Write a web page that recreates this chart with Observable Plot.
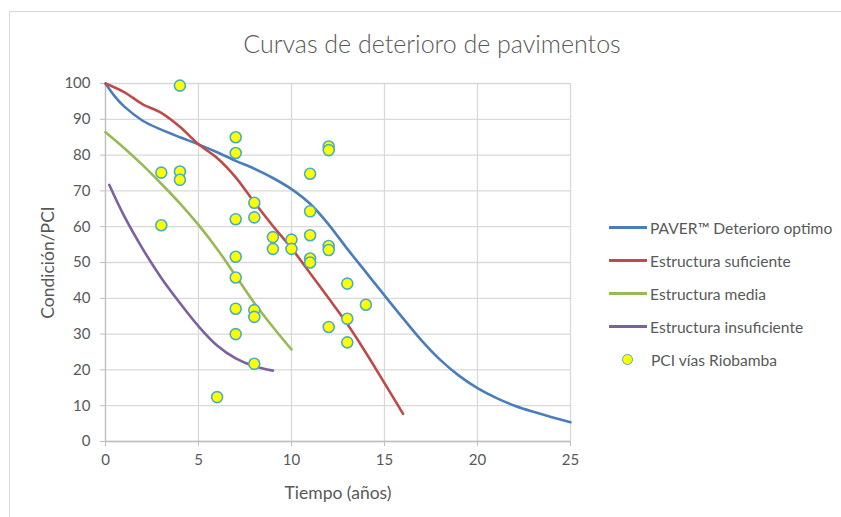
<!DOCTYPE html>
<html>
<head>
<meta charset="utf-8">
<script src="https://cdn.jsdelivr.net/npm/d3@7"></script>
<script src="https://cdn.jsdelivr.net/npm/@observablehq/plot@0.6"></script>
<style>
  html, body { margin: 0; padding: 0; background: #fff; }
  #wrap { position: relative; width: 841px; height: 517px; overflow: hidden; font-family: Lato, "Open Sans", sans-serif; color: #595959; }
  #frame { position: absolute; left: 9px; top: 11px; width: 900px; height: 600px; border-left: 1px solid #d9d9d9; border-top: 1px solid #d9d9d9; }
  #title { position: absolute; left: 0; width: 864px; top: 28px; text-align: center; font-size: 25px; font-weight: 300; color: #595959; }
  #chart { position: absolute; left: 0; top: 0; }
  #legend { position: absolute; left: 609px; top: 211px; font-size: 15.6px; color: #595959; }
  .item { height: 33px; display: flex; align-items: center; position: relative; }
  .item .sw { width: 38px; height: 3px; margin-right: 3px; }
  .item .dot { width: 9px; height: 9px; border-radius: 50%; background: #ffff00; border: 1.5px solid #4bacc6; margin-left: 13px; margin-right: 18px; }
</style>
</head>
<body>
<div id="wrap">
  <div id="frame"></div>
  <div id="chart"></div>
  <div id="title">Curvas de deterioro de pavimentos</div>
  <div id="legend"></div>
</div>
<script>
// Series names
const seriesNames = ["PAVER™ Deterioro optimo", "Estructura suficiente", "Estructura media", "Estructura insuficiente", "PCI vías Riobamba"];
const seriesColors = ["#4a7ebb", "#be4b48", "#98b954", "#7d60a0"];

// PAVER curve
const paverX = [0, 0.5, 1, 2, 3, 4, 5, 6, 7, 8, 9, 10, 11, 12, 13, 14, 15, 16, 17, 18, 19, 20, 21, 22, 23, 24, 25];
const paverY = [100, 96.4, 93.6, 89.6, 87.1, 85, 83, 80.8, 78.4, 76.2, 73.6, 70.5, 66.4, 60.6, 53.8, 47.3, 40.8, 34.4, 28.2, 22.8, 18.4, 14.9, 12.2, 10.0, 8.3, 6.8, 5.4];

// Estructura suficiente
const sufX = [0, 1, 2, 3, 4, 5, 6, 7, 8, 9, 10, 11, 12, 13, 14, 15, 16];
const sufY = [100, 97.6, 94.2, 91.8, 87.9, 83, 79.2, 73.8, 66.8, 60.2, 54, 47, 40, 32.8, 24.8, 16.3, 7.7];

// Estructura media
const medX = [0, 1, 2, 3, 4, 5, 6, 7, 8, 9, 10];
const medY = [86.4, 82, 77.2, 72, 66.5, 60.5, 53.8, 46.3, 38.7, 32, 25.7];

// Estructura insuficiente
const insX = [0.2, 1, 2, 3, 4, 5, 6, 7, 8, 9];
const insY = [71.7, 63, 53.8, 45.7, 38.7, 32.2, 26.8, 23.2, 21, 19.8];

// PCI vías Riobamba (points)
const pciX = [4, 7, 7, 12, 12, 11, 3, 4, 4, 8, 11, 7, 8, 3, 9, 10, 11, 9, 10, 12, 12, 11, 11, 7, 7, 13, 14, 7, 8, 8, 13, 12, 7, 13, 8, 6];
const pciY = [99.4, 85, 80.6, 82.4, 81.4, 74.8, 75.1, 75.4, 73.1, 66.7, 64.3, 62.1, 62.6, 60.4, 57.1, 56.4, 57.6, 53.8, 53.8, 54.6, 53.5, 51.1, 50, 51.6, 45.8, 44.1, 38.2, 37.1, 36.7, 34.8, 34.3, 32, 30, 27.7, 21.7, 12.4];

// Ticks
const xTicks = [0, 5, 10, 15, 20, 25];
const yTicks = [0, 10, 20, 30, 40, 50, 60, 70, 80, 90, 100];

const toRows = (xs, ys) => xs.map((x, i) => ({x, y: ys[i]}));
const curves = [toRows(paverX, paverY), toRows(sufX, sufY), toRows(medX, medY), toRows(insX, insY)];
const points = toRows(pciX, pciY);

const plot = Plot.plot({
  width: 841,
  height: 517,
  marginLeft: 105,
  marginRight: 271,
  marginTop: 83,
  marginBottom: 76,
  style: { fontFamily: "Lato, 'Open Sans', sans-serif", fontSize: "15px", color: "#595959", background: "transparent", overflow: "visible" },
  x: { domain: [0, 25] },
  y: { domain: [0, 100] },
  marks: [
    Plot.gridX(xTicks, { stroke: "#d9d9d9", strokeOpacity: 1, strokeWidth: 1.3 }),
    Plot.gridY(yTicks, { stroke: "#d9d9d9", strokeOpacity: 1, strokeWidth: 1.3 }),
    Plot.ruleX([0], { stroke: "#bfbfbf", strokeWidth: 1.3 }),
    Plot.ruleY([0], { stroke: "#bfbfbf", strokeWidth: 1.3 }),
    Plot.axisX(xTicks, { tickSize: 5, tickPadding: 8, stroke: "#bfbfbf", fill: "#595959", fontSize: 15, label: "Tiempo (años)", labelAnchor: "center", labelArrow: "none", labelOffset: 57 }),
    Plot.axisY(yTicks, { tickSize: 5, tickPadding: 10, stroke: "#bfbfbf", fill: "#595959", fontSize: 15, label: "Condición/PCI", labelAnchor: "center", labelArrow: "none", labelOffset: 64 }),
    ...curves.map((c, i) => Plot.line(c, { x: "x", y: "y", stroke: seriesColors[i], strokeWidth: 2.6, curve: "catmull-rom" })),
    Plot.dot(points, { x: "x", y: "y", r: 5.5, fill: "#ffff00", stroke: "#4bacc6", strokeWidth: 1.6 })
  ]
});
plot.querySelectorAll("g[aria-label='x-axis label'] text, g[aria-label='y-axis label'] text").forEach(t => { t.setAttribute("font-size", "17.5"); t.setAttribute("fill", "#595959"); });
document.getElementById("chart").appendChild(plot);

const legend = document.getElementById("legend");
seriesNames.forEach((name, i) => {
  const it = document.createElement("div");
  it.className = "item";
  if (i < 4) {
    const sw = document.createElement("div");
    sw.className = "sw";
    sw.style.background = seriesColors[i];
    it.appendChild(sw);
  } else {
    const d = document.createElement("div");
    d.className = "dot";
    it.appendChild(d);
  }
  const s = document.createElement("span");
  s.textContent = name;
  it.appendChild(s);
  legend.appendChild(it);
});
</script>
</body>
</html>
